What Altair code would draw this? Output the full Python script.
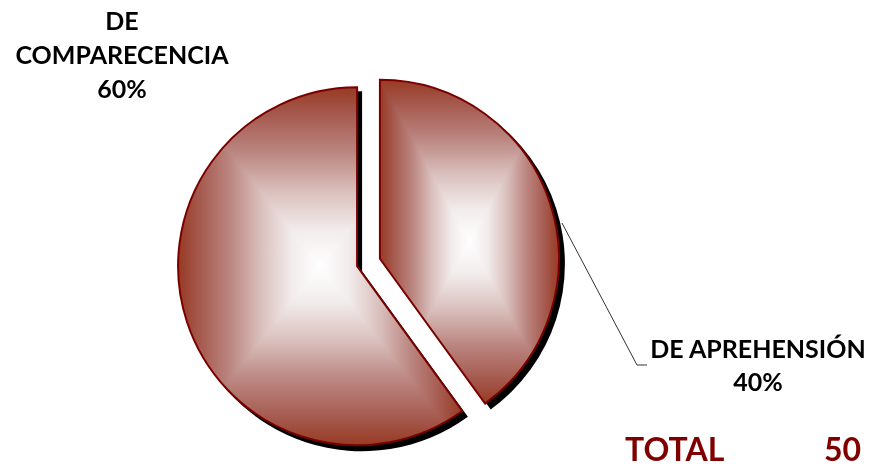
import altair as alt
import pandas as pd

# ---- data ----
categories = ["DE APREHENSIÓN", "DE COMPARECENCIA"]
counts = [20, 30]
label_lines = ["DE APREHENSIÓN", "DE|COMPARECENCIA"]

df = pd.DataFrame({"category": categories, "count": counts, "label": label_lines})

# ---- layout ----
W, H = 859, 458
CX, CY = 360.5, 254.5
EXPLODE = 12
R = 179
FONT = "Lato"


def grad(horizontal):
    half = [(0.0, "#973A24"), (0.08, "#A65B50"), (0.185, "#BC8782"),
            (0.29, "#D9BFBC"), (0.40, "#F2ECEC"), (0.5, "#FFFFFF")]
    full = half + [(round(1 - o, 3), c) for o, c in reversed(half[:-1])]
    return alt.LinearGradient(
        gradient="linear",
        x1=0, y1=0,
        x2=1 if horizontal else 0,
        y2=0 if horizontal else 1,
        stops=[alt.GradientStop(offset=o, color=c) for o, c in full],
    )


base = (
    alt.Chart(df)
    .transform_joinaggregate(total="sum(count)")
    .transform_window(cum="sum(count)")
    .transform_calculate(
        start="2*PI*(datum.cum - datum.count)/datum.total",
        end="2*PI*datum.cum/datum.total",
        pct="format(datum.count/datum.total, '.0%')",
    )
    .transform_calculate(mid="(datum.start + datum.end)/2")
    .transform_calculate(
        px=f"{CX} + {EXPLODE}*sin(datum.mid)",
        py=f"{CY} - {EXPLODE}*cos(datum.mid)",
    )
)

enc = dict(
    theta=alt.Theta("start:Q", scale=None),
    theta2=alt.Theta2("end:Q"),
    x=alt.X("px:Q", scale=None, axis=None),
    y=alt.Y("py:Q", scale=None, axis=None),
)

shadow = base.mark_arc(radius=R + 1, color="black", xOffset=5, yOffset=5).encode(**enc)
fill_h = base.mark_arc(radius=R, color=grad(True)).encode(**enc)
fill_v = base.mark_arc(radius=R, color=grad(False), blend="darken").encode(**enc)
outline = base.mark_arc(radius=R, filled=False, color="#7A0000", strokeWidth=2).encode(**enc)

txt_style = dict(font=FONT, fontWeight="bold", fontSize=25, align="center",
                 baseline="alphabetic", lineBreak="|", color="black")

label_comp = (
    base.transform_filter("datum.category == 'DE COMPARECENCIA'")
    .transform_calculate(txt="datum.label + '|' + datum.pct")
    .mark_text(lineHeight=34, **txt_style)
    .encode(text="txt:N", x=alt.value(114), y=alt.value(22))
)
label_apre = (
    base.transform_filter("datum.category == 'DE APREHENSIÓN'")
    .transform_calculate(txt="datum.label + '|' + datum.pct")
    .mark_text(lineHeight=33, **txt_style)
    .encode(text="txt:N", x=alt.value(750), y=alt.value(350))
)

one = alt.Chart(df).transform_aggregate(total="sum(count)")
leader1 = one.mark_rule(color="#333333", strokeWidth=1).encode(
    x=alt.value(554), y=alt.value(215), x2=alt.value(629), y2=alt.value(357))
leader2 = one.mark_rule(color="#333333", strokeWidth=1).encode(
    x=alt.value(629), y=alt.value(357), x2=alt.value(639), y2=alt.value(357))

total_word = one.mark_text(text="TOTAL", font=FONT, fontWeight="bold", fontSize=32,
                           color="#800000", align="left", baseline="alphabetic").encode(
    x=alt.value(617), y=alt.value(453))
total_val = one.mark_text(font=FONT, fontWeight="bold", fontSize=32,
                          color="#800000", align="left", baseline="alphabetic").encode(
    text="total:Q", x=alt.value(816), y=alt.value(453))

chart = (
    alt.layer(shadow, fill_h, fill_v, outline, leader1, leader2,
              label_comp, label_apre, total_word, total_val)
    .properties(width=W, height=H, autosize="none", padding=0)
    .configure_view(stroke=None)
)

chart.save("out.html", embed_options={"renderer": "svg", "actions": False})
